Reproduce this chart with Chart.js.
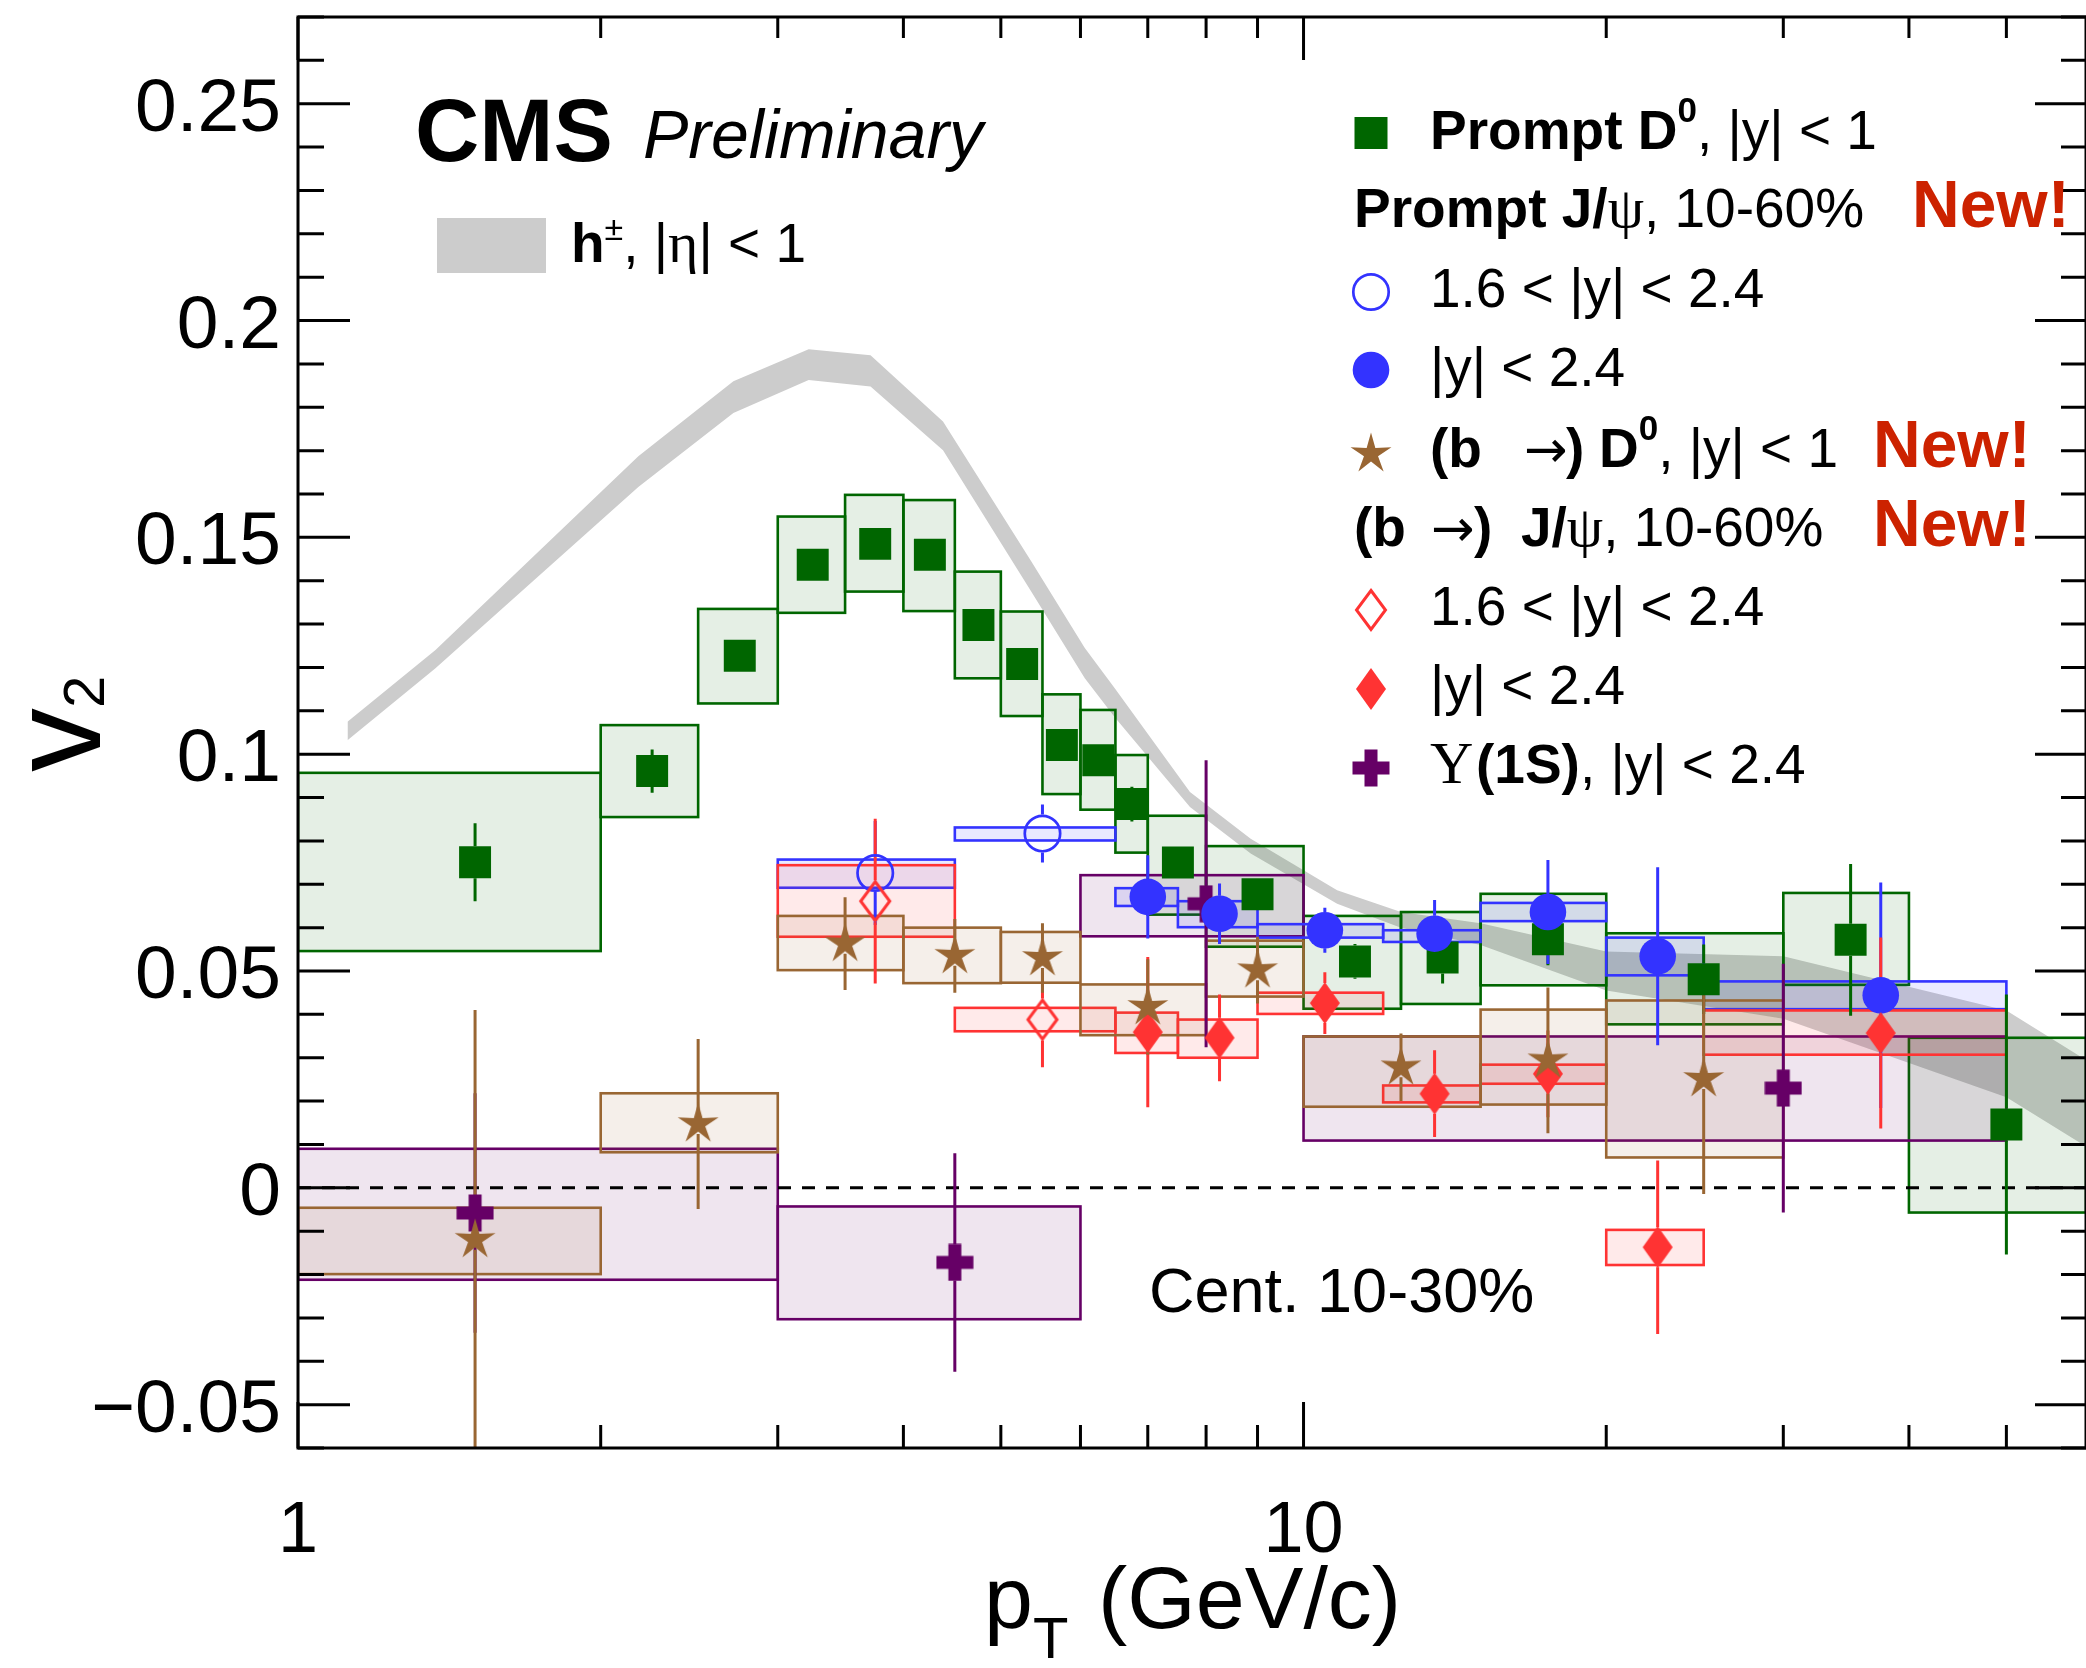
<!DOCTYPE html>
<html>
<head>
<meta charset="utf-8">
<title>v2 vs pT</title>
<script src="https://cdn.jsdelivr.net/npm/chart.js@4.4.1/dist/chart.umd.min.js"></script>
<style>
  html, body { margin: 0; padding: 0; background: #fff; }
  #wrap { width: 2086px; height: 1668px; }
</style>
</head>
<body>
<div id="wrap"><canvas id="c" width="2086" height="1668"></canvas></div>
<script>
// v2 of heavy flavour / quarkonia vs pT, with charged hadron band underneath.
const SANS = '"Liberation Sans", Arial, Helvetica, sans-serif';
const SERIF = '"Liberation Serif", "DejaVu Serif", "Times New Roman", serif';
const ARROW = '"DejaVu Sans", sans-serif';

// axes
const xMin = 1, xMax = 60;
const yMin = -0.06, yMax = 0.27;
const xTickValues = [1, 2, 3, 4, 5, 6, 7, 8, 9, 10, 20, 30, 40, 50];
const xMajorTicks = [1, 10];
const xTickLabels = ['1', '10'];
const yTickValues = [-0.06, -0.05, -0.04, -0.03, -0.02, -0.01, 0, 0.01, 0.02, 0.03, 0.04, 0.05, 0.06, 0.07, 0.08,
  0.09, 0.1, 0.11, 0.12, 0.13, 0.14, 0.15, 0.16, 0.17, 0.18, 0.19, 0.2, 0.21, 0.22, 0.23, 0.24, 0.25, 0.26, 0.27];
const yLabelValues = [-0.05, 0, 0.05, 0.1, 0.15, 0.2, 0.25];
const yLabelTexts = ['\u22120.05', '0', '0.05', '0.1', '0.15', '0.2', '0.25'];

// h+- band, |eta| < 1 (upper / lower edge)
const hPt = [1.12, 1.37, 2.18, 2.71, 3.22, 3.71, 4.38, 5.36, 6.06, 6.49, 7.71, 8.86, 10.8, 12.5, 15, 20, 30, 50, 60];
const hHi = [0.1075, 0.1240, 0.1687, 0.1860, 0.1934, 0.1920, 0.1767, 0.1445, 0.1245, 0.1152, 0.0913, 0.0805, 0.0686, 0.0636, 0.0610, 0.0545, 0.0534, 0.0409, 0.0295];
const hLo = [0.1032, 0.1198, 0.1616, 0.1787, 0.1863, 0.1848, 0.1701, 0.1375, 0.1175, 0.1085, 0.0878, 0.0771, 0.0655, 0.0600, 0.0560, 0.0455, 0.0390, 0.0209, 0.0095];

// prompt D0, |y| < 1
const d0Pt = [1.5, 2.25, 2.75, 3.25, 3.75, 4.25, 4.75, 5.25, 5.75, 6.25, 6.75, 7.5, 9, 11.25, 13.75, 17.5, 25, 35, 50];
const d0BinLo = [1, 2, 2.5, 3, 3.5, 4, 4.5, 5, 5.5, 6, 6.5, 7, 8, 10, 12.5, 15, 20, 30, 40];
const d0BinHi = [2, 2.5, 3, 3.5, 4, 4.5, 5, 5.5, 6, 6.5, 7, 8, 10, 12.5, 15, 20, 30, 40, 60];
const d0V2 = [0.0751, 0.0961, 0.1227, 0.1437, 0.1485, 0.1460, 0.1298, 0.1208, 0.1021, 0.0986, 0.0885, 0.0750, 0.0677, 0.0522, 0.0531, 0.0573, 0.0481, 0.0572, 0.0146];
const d0Stat = [0.009, 0.005, 0.002, 0.002, 0.002, 0.002, 0.002, 0.003, 0.003, 0.003, 0.004, 0.003, 0.003, 0.004, 0.006, 0.006, 0.008, 0.0175, 0.030];
const d0SysLo = [0.0546, 0.0855, 0.1117, 0.1326, 0.1375, 0.1330, 0.1175, 0.1088, 0.0908, 0.0872, 0.0773, 0.0630, 0.0556, 0.0413, 0.0424, 0.0467, 0.0377, 0.0468, -0.0057];
const d0SysHi = [0.0957, 0.1067, 0.1335, 0.1548, 0.1598, 0.1586, 0.1421, 0.1329, 0.1138, 0.1102, 0.0998, 0.0858, 0.0788, 0.0627, 0.0636, 0.0678, 0.0587, 0.0680, 0.0346];

// prompt J/psi, 1.6 < |y| < 2.4
const pjFwdPt = [3.75, 5.5];
const pjFwdBinLo = [3, 4.5];
const pjFwdBinHi = [4.5, 6.5];
const pjFwdV2 = [0.0726, 0.0817];
const pjFwdStat = [0.012, 0.0067];
const pjFwdSysLo = [0.0692, 0.0801];
const pjFwdSysHi = [0.0757, 0.0831];

// prompt J/psi, |y| < 2.4
const pjPt = [7, 8.25, 10.5, 13.5, 17.5, 22.5, 37.5];
const pjBinLo = [6.5, 7.5, 9, 12, 15, 20, 25];
const pjBinHi = [7.5, 9, 12, 15, 20, 25, 50];
const pjV2 = [0.0671, 0.0632, 0.0594, 0.0586, 0.0636, 0.0534, 0.0444];
const pjStat = [0.0096, 0.007, 0.0052, 0.0078, 0.012, 0.0205, 0.026];
const pjSysLo = [0.0650, 0.0601, 0.0577, 0.0567, 0.0615, 0.0490, 0.0412];
const pjSysHi = [0.0691, 0.0661, 0.0608, 0.0594, 0.0657, 0.0577, 0.0476];

// (b ->) D0, |y| < 1
const bdPt = [1.5, 2.5, 3.5, 4.5, 5.5, 7, 9, 12.5, 17.5, 25];
const bdBinLo = [1, 2, 3, 4, 5, 6, 8, 10, 15, 20];
const bdBinHi = [2, 3, 4, 5, 6, 8, 10, 15, 20, 30];
const bdV2 = [-0.012, 0.0147, 0.0563, 0.0535, 0.053, 0.0417, 0.0502, 0.0278, 0.0294, 0.0251];
const bdStat = [0.053, 0.0196, 0.0107, 0.0085, 0.008, 0.011, 0.0077, 0.0078, 0.0168, 0.0265];
const bdSysLo = [-0.0199, 0.0082, 0.0502, 0.0472, 0.0473, 0.0352, 0.0441, 0.0187, 0.0192, 0.0070];
const bdSysHi = [-0.0046, 0.0218, 0.0627, 0.0600, 0.0590, 0.0469, 0.0570, 0.0349, 0.0411, 0.0432];

// (b ->) J/psi, 1.6 < |y| < 2.4
const bjFwdPt = [3.75, 5.5];
const bjFwdBinLo = [3, 4.5];
const bjFwdBinHi = [4.5, 6.5];
const bjFwdV2 = [0.0661, 0.0388];
const bjFwdStat = [0.019, 0.011];
const bjFwdSysLo = [0.0579, 0.0361];
const bjFwdSysHi = [0.0744, 0.0415];

// (b ->) J/psi, |y| < 2.4
const bjPt = [7, 8.25, 10.5, 13.5, 17.5, 22.5, 37.5];
const bjBinLo = [6.5, 7.5, 9, 12, 15, 20, 25];
const bjBinHi = [7.5, 9, 12, 15, 20, 25, 50];
const bjV2 = [0.0359, 0.0346, 0.0426, 0.0217, 0.0263, -0.0137, 0.0357];
const bjStat = [0.0173, 0.010, 0.0071, 0.010, 0.010, 0.020, 0.022];
const bjSysLo = [0.0311, 0.0300, 0.0401, 0.0197, 0.0240, -0.0178, 0.0307];
const bjSysHi = [0.0404, 0.0388, 0.0450, 0.0236, 0.0284, -0.0097, 0.0409];

// Upsilon(1S), |y| < 2.4
const upsPt = [1.5, 4.5, 8, 30];
const upsBinLo = [1, 3, 6, 10];
const upsBinHi = [3, 6, 10, 50];
const upsV2 = [-0.0058, -0.0172, 0.0655, 0.0230];
const upsStat = [0.0276, 0.0252, 0.0331, 0.0287];
const upsSysLo = [-0.0212, -0.0303, 0.0580, 0.0109];
const upsSysHi = [0.0090, -0.0043, 0.0721, 0.0349];

const GREEN = '#006600', BLUE = '#3333ff', RED = '#ff3333', BROWN = '#996633', PURPLE = '#660066';
const NEWRED = '#cc2200';

// marker images for shapes Chart.js has no filled version of
function markerCanvas(w, h, paint) {
  const c = document.createElement('canvas');
  c.width = w; c.height = h;
  const g = c.getContext('2d');
  g.translate(w / 2, h / 2);
  paint(g);
  return c;
}
const starImg = markerCanvas(46, 46, g => {
  // five-pointed star, one point up, thin arms
  g.beginPath();
  for (let k = 0; k < 10; k++) {
    const r = k % 2 ? 7.4 : 21.5;
    const ang = -Math.PI / 2 + k * Math.PI / 5;
    const px = r * Math.cos(ang), py = r * Math.sin(ang);
    k ? g.lineTo(px, py) : g.moveTo(px, py);
  }
  g.closePath(); g.fillStyle = BROWN; g.fill();
});
const crossImg = markerCanvas(38, 38, g => {
  g.fillStyle = PURPLE;
  g.fillRect(-18.5, -6.5, 37, 13);
  g.fillRect(-6.5, -18.5, 13, 37);
});
const diamondImg = markerCanvas(32, 44, g => {
  g.beginPath(); g.moveTo(0, -21); g.lineTo(15, 0); g.lineTo(0, 21); g.lineTo(-15, 0); g.closePath();
  g.fillStyle = RED; g.fill();
});
const openDiamondImg = markerCanvas(36, 46, g => {
  g.beginPath(); g.moveTo(0, -19.5); g.lineTo(14.5, 0); g.lineTo(0, 19.5); g.lineTo(-14.5, 0); g.closePath();
  g.strokeStyle = RED; g.lineWidth = 3; g.stroke();
});

// drawing order: first in list sits underneath
const series = [
  { pt: d0Pt, lo: d0BinLo, hi: d0BinHi, v2: d0V2, err: d0Stat, sLo: d0SysLo, sHi: d0SysHi,
    color: GREEN, fill: 'rgba(0,102,0,0.1)', gap: 16, style: 'rect', radius: 22.6, bg: GREEN, bw: 0 },
  { pt: upsPt, lo: upsBinLo, hi: upsBinHi, v2: upsV2, err: upsStat, sLo: upsSysLo, sHi: upsSysHi,
    color: PURPLE, fill: 'rgba(102,0,102,0.1)', gap: 18, style: crossImg, radius: 18 },
  { pt: pjFwdPt, lo: pjFwdBinLo, hi: pjFwdBinHi, v2: pjFwdV2, err: pjFwdStat, sLo: pjFwdSysLo, sHi: pjFwdSysHi,
    color: BLUE, fill: 'rgba(51,51,255,0.1)', gap: 19, style: 'circle', radius: 17.7, bg: 'rgba(0,0,0,0)', bw: 2.7 },
  { pt: pjPt, lo: pjBinLo, hi: pjBinHi, v2: pjV2, err: pjStat, sLo: pjSysLo, sHi: pjSysHi,
    color: BLUE, fill: 'rgba(51,51,255,0.1)', gap: 18, style: 'circle', radius: 18.3, bg: BLUE, bw: 0 },
  { pt: bjFwdPt, lo: bjFwdBinLo, hi: bjFwdBinHi, v2: bjFwdV2, err: bjFwdStat, sLo: bjFwdSysLo, sHi: bjFwdSysHi,
    color: RED, fill: 'rgba(255,51,51,0.1)', gap: 21, style: openDiamondImg, radius: 20 },
  { pt: bjPt, lo: bjBinLo, hi: bjBinHi, v2: bjV2, err: bjStat, sLo: bjSysLo, sHi: bjSysHi,
    color: RED, fill: 'rgba(255,51,51,0.1)', gap: 20, style: diamondImg, radius: 20 },
  { pt: bdPt, lo: bdBinLo, hi: bdBinHi, v2: bdV2, err: bdStat, sLo: bdSysLo, sHi: bdSysHi,
    color: BROWN, fill: 'rgba(153,102,51,0.1)', gap: 10, style: starImg, radius: 20 }
];

// text with mixed fonts along one baseline
function drawRuns(ctx, x, y, parts) {
  for (const p of parts) {
    if (p.x !== undefined) x = p.x;
    ctx.font = p.f;
    ctx.fillStyle = p.c || '#000';
    ctx.fillText(p.t, x, y + (p.dy || 0));
    x += ctx.measureText(p.t).width;
  }
  return x;
}

const overlay = {
  id: 'overlay',
  afterDatasetDraw(chart, args) {
    if (args.index !== 1) return; // right after the h+- band
    const ctx = chart.ctx, xs = chart.scales.x, ys = chart.scales.y, a = chart.chartArea;
    ctx.save();
    ctx.beginPath();
    ctx.rect(a.left, a.top, a.right - a.left, a.bottom - a.top);
    ctx.clip();
    // systematic boxes
    ctx.lineWidth = 2.6;
    for (const s of series) {
      for (let i = 0; i < s.pt.length; i++) {
        const x0 = xs.getPixelForValue(s.lo[i]), x1 = xs.getPixelForValue(s.hi[i]);
        const y0 = ys.getPixelForValue(s.sHi[i]), y1 = ys.getPixelForValue(s.sLo[i]);
        ctx.fillStyle = s.fill;
        ctx.fillRect(x0, y0, x1 - x0, y1 - y0);
        ctx.strokeStyle = s.color;
        ctx.strokeRect(x0, y0, x1 - x0, y1 - y0);
      }
    }
    // v2 = 0
    const y0 = ys.getPixelForValue(0);
    ctx.strokeStyle = '#000'; ctx.lineWidth = 3; ctx.setLineDash([13, 11]);
    ctx.beginPath(); ctx.moveTo(a.left, y0); ctx.lineTo(a.right, y0); ctx.stroke();
    ctx.setLineDash([]);
    // statistical error bars
    for (const s of series) {
      ctx.strokeStyle = s.color; ctx.lineWidth = 3;
      for (let i = 0; i < s.pt.length; i++) {
        const px = xs.getPixelForValue(s.pt[i]);
        const py = ys.getPixelForValue(s.v2[i]);
        const top = ys.getPixelForValue(s.v2[i] + s.err[i]);
        const bot = ys.getPixelForValue(s.v2[i] - s.err[i]);
        ctx.beginPath();
        if (top < py - s.gap) { ctx.moveTo(px, top); ctx.lineTo(px, py - s.gap); }
        if (bot > py + s.gap) { ctx.moveTo(px, py + s.gap); ctx.lineTo(px, bot); }
        ctx.stroke();
      }
    }
    ctx.restore();
  },
  afterDraw(chart) {
    const ctx = chart.ctx, xs = chart.scales.x, ys = chart.scales.y, a = chart.chartArea;
    ctx.save();
    ctx.strokeStyle = '#000'; ctx.lineWidth = 3;
    ctx.strokeRect(a.left, a.top, a.right - a.left, a.bottom - a.top);
    ctx.beginPath();
    for (const v of yTickValues) {
      const py = ys.getPixelForValue(v);
      const major = yLabelValues.some(m => Math.abs(m - v) < 1e-6);
      ctx.moveTo(a.left, py); ctx.lineTo(a.left + (major ? 52 : 26), py);
      ctx.moveTo(a.right, py); ctx.lineTo(a.right - (major ? 51 : 25), py);
    }
    for (const v of xTickValues) {
      const px = xs.getPixelForValue(v);
      const major = xMajorTicks.includes(v);
      ctx.moveTo(px, a.bottom); ctx.lineTo(px, a.bottom - (major ? 46 : 23));
      ctx.moveTo(px, a.top); ctx.lineTo(px, a.top + (major ? 43 : 21));
    }
    ctx.stroke();

    // tick labels
    ctx.fillStyle = '#000';
    ctx.font = '75px ' + SANS;
    ctx.textAlign = 'right';
    yLabelValues.forEach((v, i) => ctx.fillText(yLabelTexts[i], a.left - 17, ys.getPixelForValue(v) + 27));
    ctx.textAlign = 'center';
    ctx.font = '72px ' + SANS;
    xMajorTicks.forEach((v, i) => ctx.fillText(xTickLabels[i], xs.getPixelForValue(v), a.bottom + 104));
    ctx.textAlign = 'left';

    // axis titles
    drawRuns(ctx, 984, 1628, [{ t: 'p', f: '88px ' + SANS }, { t: 'T', f: '58px ' + SANS, dy: 30 },
      { t: '(GeV/c)', f: '88px ' + SANS, x: 1098 }]);
    ctx.save();
    ctx.translate(100, 772);
    ctx.rotate(-Math.PI / 2);
    drawRuns(ctx, 0, 0, [{ t: 'v', f: '128px ' + SANS }, { t: '2', f: '58px ' + SANS, dy: 4 }]);
    ctx.restore();

    // experiment label
    drawRuns(ctx, 415, 161, [{ t: 'CMS', f: 'bold 89px ' + SANS }]);
    drawRuns(ctx, 643, 158, [{ t: 'Preliminary', f: 'italic 68px ' + SANS }]);

    // h+- legend entry
    ctx.fillStyle = '#cccccc';
    ctx.fillRect(437, 218, 109, 55);
    drawRuns(ctx, 571, 262, [{ t: 'h', f: 'bold 55px ' + SANS }, { t: '\u00b1', f: '34px ' + SANS, dy: -22 },
      { t: ', |', f: '55px ' + SANS }, { t: '\u03b7', f: '58px ' + SERIF }, { t: '| < 1', f: '55px ' + SANS }]);

    // right-hand legend
    const R = '55px ' + SANS, B = 'bold 55px ' + SANS, SUP = 'bold 35px ' + SANS, GR = '58px ' + SERIF;
    const AR = '52px ' + ARROW;
    const NEW = 'bold 66px ' + SANS;
    const mx = 1371;
    ctx.fillStyle = GREEN; ctx.fillRect(mx - 16.5, 133 - 16, 33, 32);
    drawRuns(ctx, 1430, 149, [{ t: 'Prompt D', f: B }, { t: '0', f: SUP, dy: -27 }, { t: ', |y| < 1', f: R }]);
    drawRuns(ctx, 1354, 227, [{ t: 'Prompt J/', f: B }, { t: '\u03c8', f: GR }, { t: ', 10-60%', f: R }]);
    drawRuns(ctx, 1912, 227, [{ t: 'New!', f: NEW, c: NEWRED }]);
    ctx.strokeStyle = BLUE; ctx.lineWidth = 2.7;
    ctx.beginPath(); ctx.arc(mx, 292, 17.7, 0, Math.PI * 2); ctx.stroke();
    drawRuns(ctx, 1430, 307, [{ t: '1.6 < |y| < 2.4', f: R }]);
    ctx.fillStyle = BLUE;
    ctx.beginPath(); ctx.arc(mx, 370, 18.3, 0, Math.PI * 2); ctx.fill();
    drawRuns(ctx, 1430, 386, [{ t: '|y| < 2.4', f: R }]);
    ctx.drawImage(starImg, mx - starImg.width / 2, 454 - starImg.height / 2);
    drawRuns(ctx, 1430, 467, [{ t: '(b', f: B }, { t: '\u2192', f: AR, x: 1524 }, { t: ')', f: B, x: 1566 },
      { t: 'D', f: B, x: 1599 }, { t: '0', f: SUP, dy: -27 }, { t: ', |y| < 1', f: R }]);
    drawRuns(ctx, 1873, 467, [{ t: 'New!', f: NEW, c: NEWRED }]);
    drawRuns(ctx, 1354, 546, [{ t: '(b', f: B }, { t: '\u2192', f: AR, x: 1431 }, { t: ')', f: B, x: 1474 },
      { t: 'J/', f: B, x: 1521 }, { t: '\u03c8', f: GR }, { t: ', 10-60%', f: R }]);
    drawRuns(ctx, 1873, 546, [{ t: 'New!', f: NEW, c: NEWRED }]);
    ctx.drawImage(openDiamondImg, mx - openDiamondImg.width / 2, 610 - openDiamondImg.height / 2);
    drawRuns(ctx, 1430, 625, [{ t: '1.6 < |y| < 2.4', f: R }]);
    ctx.drawImage(diamondImg, mx - diamondImg.width / 2, 689 - diamondImg.height / 2);
    drawRuns(ctx, 1430, 704, [{ t: '|y| < 2.4', f: R }]);
    ctx.drawImage(crossImg, mx - crossImg.width / 2, 768 - crossImg.height / 2);
    drawRuns(ctx, 1430, 783, [{ t: '\u03a5', f: '60px ' + SERIF }, { t: '(1S)', f: B, x: 1476 }, { t: ', |y| < 2.4', f: R }]);

    drawRuns(ctx, 1149, 1312, [{ t: 'Cent. 10-30%', f: '63px ' + SANS }]);
    ctx.restore();
  }
};

const datasets = [
  { type: 'line', data: hPt.map((x, i) => ({ x, y: hHi[i] })), showLine: true, fill: '+1',
    backgroundColor: '#cccccc', borderColor: 'rgba(0,0,0,0)', borderWidth: 0, pointRadius: 0, tension: 0, order: 100 },
  { type: 'line', data: hPt.map((x, i) => ({ x, y: hLo[i] })), showLine: true, fill: false,
    borderColor: 'rgba(0,0,0,0)', borderWidth: 0, pointRadius: 0, tension: 0, order: 99 }
];
series.forEach((s, k) => {
  datasets.push({
    type: 'scatter',
    data: s.pt.map((x, i) => ({ x, y: s.v2[i] })),
    pointStyle: s.style,
    pointRadius: s.radius,
    pointBackgroundColor: s.bg || s.color,
    pointBorderColor: s.color,
    pointBorderWidth: s.bw || 0,
    order: 10 - k
  });
});

new Chart(document.getElementById('c'), {
  data: { datasets },
  options: {
    responsive: false,
    devicePixelRatio: 1,
    animation: false,
    events: [],
    layout: { autoPadding: false, padding: { left: 298, top: 17, right: -3, bottom: 220 } },
    scales: {
      x: { type: 'logarithmic', min: xMin, max: xMax, display: false },
      y: { type: 'linear', min: yMin, max: yMax, display: false }
    },
    plugins: { legend: { display: false }, tooltip: { enabled: false } }
  },
  plugins: [overlay]
});
</script>
</body>
</html>
